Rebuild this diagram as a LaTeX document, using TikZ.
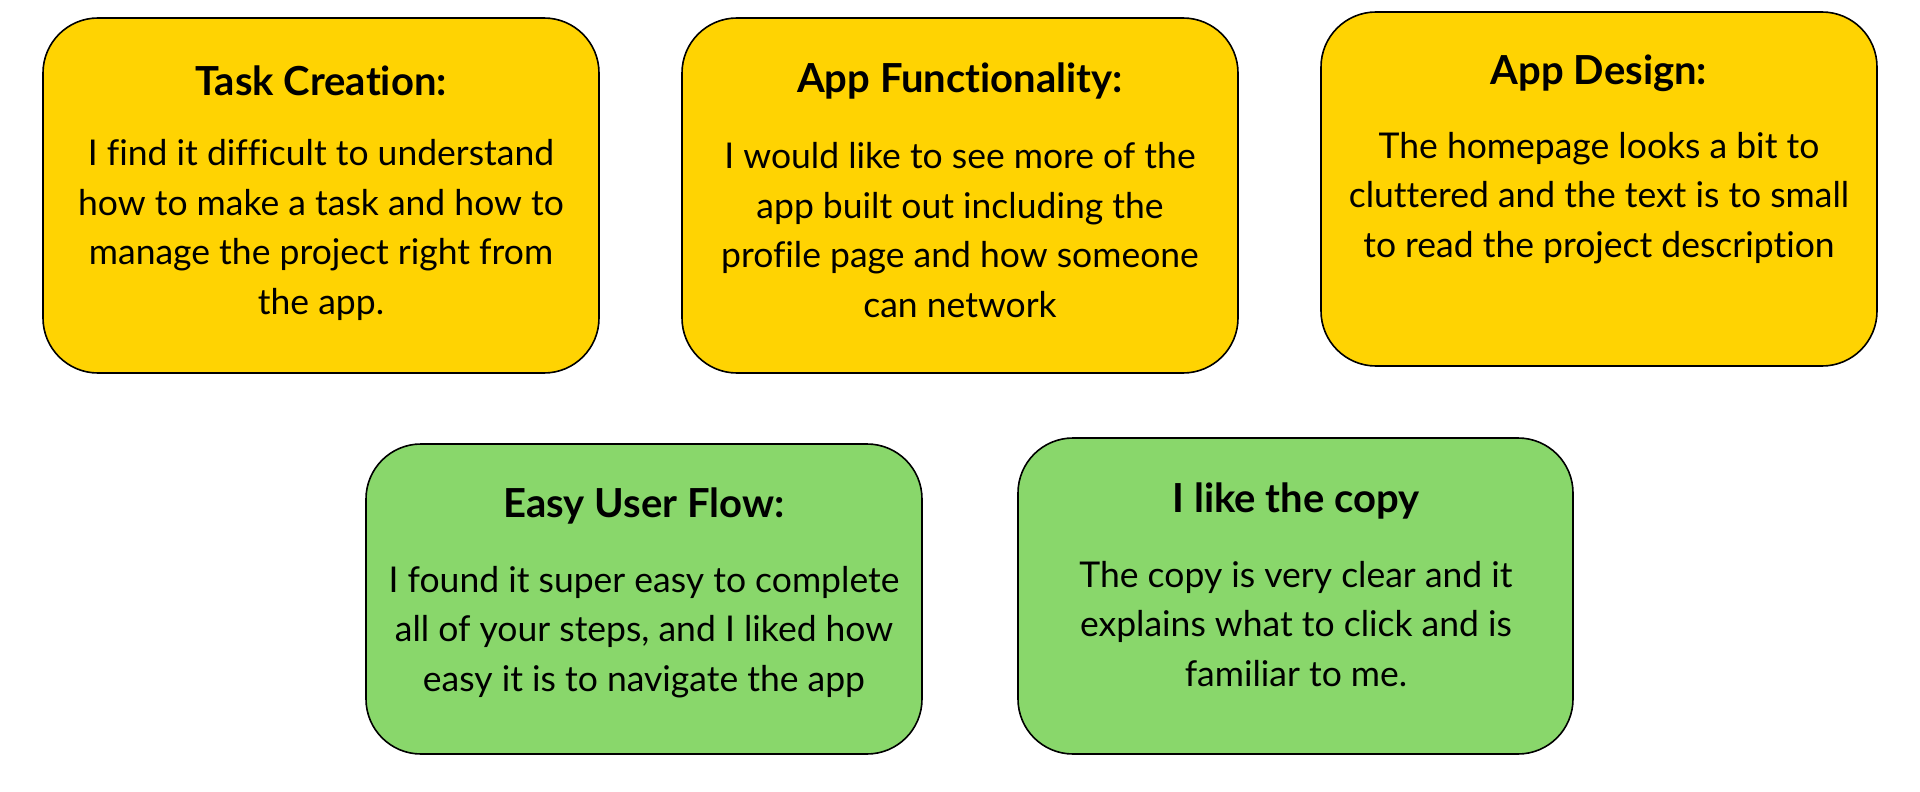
\documentclass[tikz,border=0pt]{standalone}
\usepackage{fontspec}
\setmainfont[Ligatures={NoCommon}]{Lato}
\definecolor{noteyellow}{HTML}{FFD302}
\definecolor{notegreen}{HTML}{89D76B}
\begin{document}
\begin{tikzpicture}[x=1pt,y=-1pt,
  card/.style={draw=black,line width=1.6pt,rounded corners=55pt,inner sep=0pt},
  yellowcard/.style={card,fill=noteyellow},
  greencard/.style={card,fill=notegreen},
  heading/.style={font=\fontsize{40}{46}\selectfont\bfseries,inner sep=0pt},
  bodytext/.style={font=\fontsize{35.5}{49.6}\selectfont,align=center,inner sep=0pt}]
\useasboundingbox[fill=white] (0,0) rectangle (1920,792);

% top row: issues
\draw[yellowcard] (43,18) rectangle (599,373);
\node[heading] (t1) at (321,81) {Task Creation:};
\node[bodytext] (b1) at (321,230) {I find it difficult to understand\\how to make a task and how to\\manage the project right from\\the app.};

\draw[yellowcard] (682,18) rectangle (1238,373);
\node[heading] (t2) at (960,81) {App Functionality:};
\node[bodytext] (b2) at (960,230) {I would like to see more of the\\app built out including the\\profile page and how someone\\can network};

\draw[yellowcard] (1321,12) rectangle (1877,366);
\node[heading] (t3) at (1599,73) {App Design:};
\node[bodytext] (b3) at (1599,198) {The homepage looks a bit to\\cluttered and the text is to small\\to read the project description};

% bottom row: positives
\draw[greencard] (366,444) rectangle (922,754);
\node[heading] (t4) at (644,506) {Easy User Flow:};
\node[bodytext] (b4) at (644,632) {I found it super easy to complete\\all of your steps, and I liked how\\easy it is to navigate the app};

\draw[greencard] (1018,438) rectangle (1573,754);
\node[heading] (t5) at (1296,501) {I like the copy};
\node[bodytext] (b5) at (1296,624) {The copy is very clear and it\\explains what to click and is\\familiar to me.};
\end{tikzpicture}
\end{document}
